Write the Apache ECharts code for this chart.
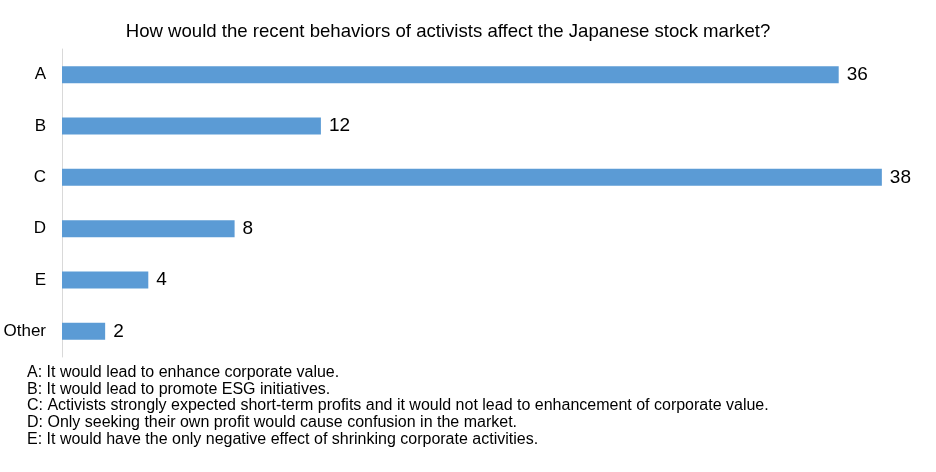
<!DOCTYPE html>
<html>
<head>
<meta charset="utf-8">
<script src="https://cdn.jsdelivr.net/npm/echarts@6/dist/echarts.min.js"></script>
<style>
  html, body { margin: 0; padding: 0; background: #fff; }
  #chart { width: 936px; height: 472px; }
</style>
</head>
<body>
<div id="chart"></div>
<script>
const categories = ['A', 'B', 'C', 'D', 'E', 'Other'];
const values = [36, 12, 38, 8, 4, 2];
const notes = [
  'A: It would lead to enhance corporate value.',
  'B: It would lead to promote ESG initiatives.',
  'C: Activists strongly expected short-term profits and it would not lead to enhancement of corporate value.',
  'D: Only seeking their own profit would cause confusion in the market.',
  'E: It would have the only negative effect of shrinking corporate activities.'
];

const font = 'Arial, "Liberation Sans", sans-serif';
const chart = echarts.init(document.getElementById('chart'));

chart.setOption({
  animation: false,
  title: {
    text: 'How would the recent behaviors of activists affect the Japanese stock market?',
    left: 443,
    textAlign: 'center',
    top: 17,
    textStyle: { fontFamily: font, fontSize: 18.6, fontWeight: 'normal', color: '#000' }
  },
  grid: { left: 62, right: 11, top: 49, bottom: 115 },
  xAxis: {
    type: 'value',
    min: 0,
    max: 40,
    show: false
  },
  yAxis: {
    type: 'category',
    data: categories,
    inverse: true,
    axisLine: { lineStyle: { color: '#d9d9d9', width: 1 } },
    axisTick: { show: false },
    axisLabel: { margin: 16, fontFamily: font, fontSize: 17, color: '#000', padding: [4, 0, 0, 0] }
  },
  series: [{
    type: 'bar',
    data: values,
    barWidth: 17,
    itemStyle: { color: '#5b9bd5' },
    label: {
      show: true,
      position: 'right',
      distance: 8,
      fontFamily: font,
      fontSize: 19,
      color: '#000',
      padding: [3, 0, 0, 0]
    }
  }],
  graphic: [{
    type: 'text',
    left: 27,
    top: 364,
    style: {
      text: notes.join('\n'),
      font: '16px ' + font,
      lineHeight: 16.8,
      fill: '#000'
    }
  }]
});
</script>
</body>
</html>
